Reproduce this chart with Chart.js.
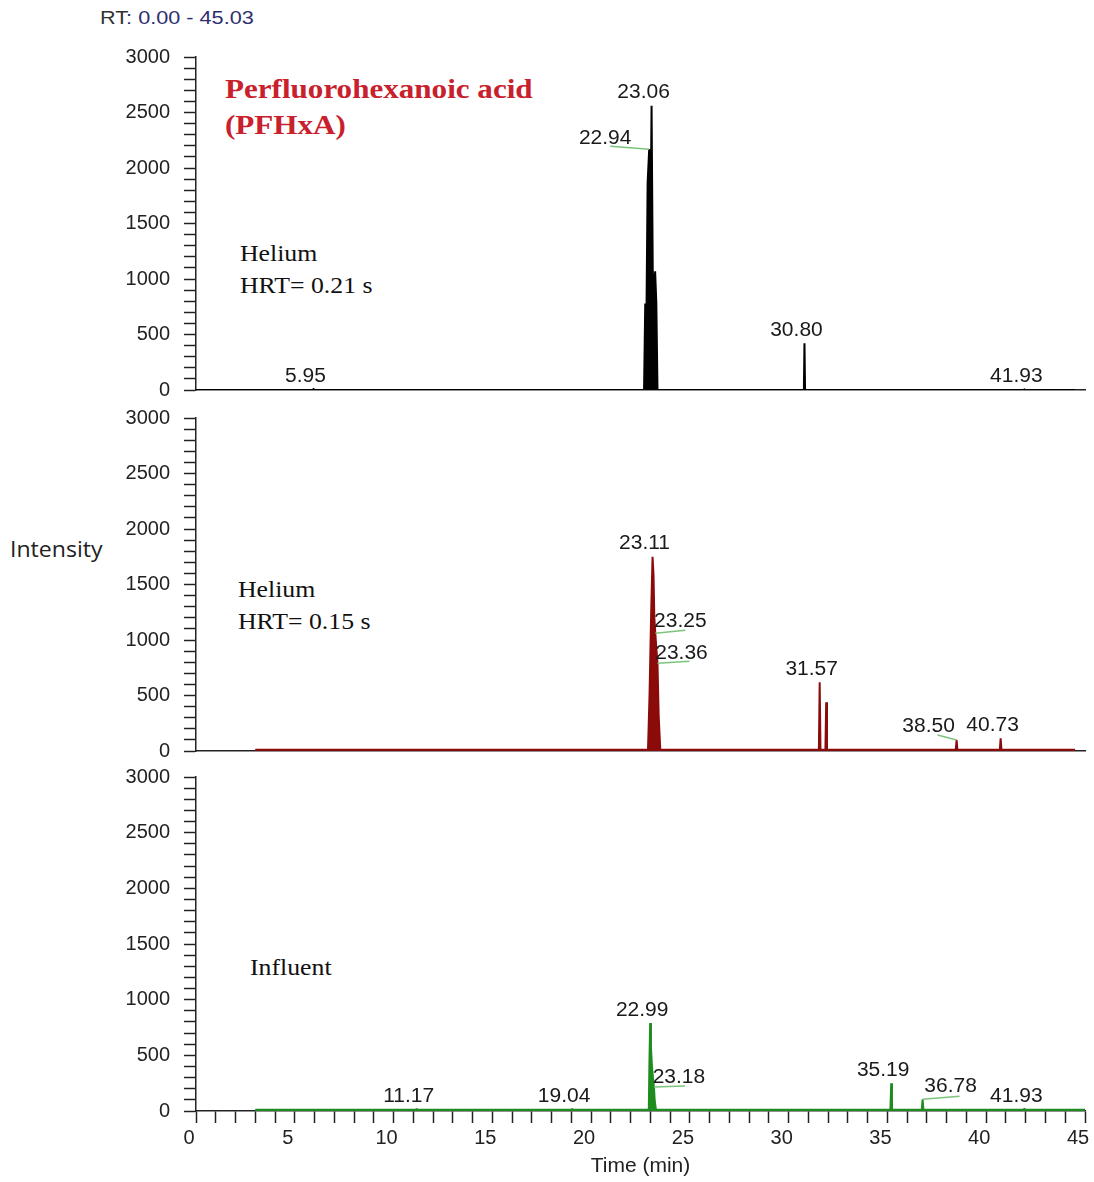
<!DOCTYPE html>
<html>
<head>
<meta charset="utf-8">
<title>PFHxA chromatograms</title>
<script src="https://cdn.jsdelivr.net/npm/chart.js@4.4.1/dist/chart.umd.min.js"></script>
<style>
    html, body { margin: 0; padding: 0; background: #fff; overflow: hidden; }
    body { position: relative; width: 1094px; height: 1182px; font-family: "Liberation Sans", Arial, sans-serif; color: #222; }
    canvas { position: absolute; left: 0; }
    .note { position: absolute; white-space: nowrap; font-family: "Liberation Serif", "Times New Roman", serif; color: #111; font-size: 23px; line-height: 32px; transform: scaleX(1.12); transform-origin: left center; }
    .title { position: absolute; left: 225px; top: 71px; font-family: "Liberation Serif", "Times New Roman", serif; font-weight: bold; font-size: 28px; line-height: 36px; color: #c8202c; white-space: nowrap; transform: scaleX(1.11); transform-origin: left center; }
    .rt { position: absolute; left: 100px; top: 6px; font-size: 19px; line-height: 24px; color: #333; transform: scaleX(1.14); transform-origin: left center; }
    .rt span { color: #2e2e6e; }
    .ylab { position: absolute; left: 10px; top: 534px; font-family: "Open Sans", sans-serif; font-size: 21px; line-height: 30px; color: #222; transform: scaleX(1.1); transform-origin: left center; }
</style>
</head>
<body>
<div class="rt">RT<span>: 0.00 - 45.03</span></div>
<div class="title">Perfluorohexanoic acid<br>(PFHxA)</div>
<div class="note" style="left:240px; top:238px;">Helium<br>HRT= 0.21 s</div>
<div class="note" style="left:238px; top:574px;">Helium<br>HRT= 0.15 s</div>
<div class="note" style="left:250px; top:952px;">Influent</div>
<div class="ylab">Intensity</div>

<canvas id="panelA" width="1100" height="385" style="top:31px"></canvas>
<canvas id="panelB" width="1100" height="385" style="top:392px"></canvas>
<canvas id="panelC" width="1100" height="430" style="top:751px"></canvas>

<script>
// Helium, HRT 0.21 s : retention time (min) / intensity
var rtHeliumA = [0, 5.90, 5.95, 6.00, 22.68, 22.74, 22.80, 22.86, 22.94, 23.00, 23.06, 23.12, 23.18, 23.24, 23.30, 23.36, 30.77, 30.80, 30.83, 41.88, 41.93, 41.98, 44.5];
var intHeliumA = [0, 0, 8, 0, 0, 780, 640, 1860, 2170, 1300, 2560, 1080, 830, 1070, 790, 0, 0, 420, 0, 0, 6, 0, 0];

// Helium, HRT 0.15 s
var rtHeliumB = [3.0, 22.88, 22.96, 23.04, 23.11, 23.16, 23.20, 23.25, 23.30, 23.36, 23.42, 23.50, 31.53, 31.57, 31.61, 31.86, 31.90, 31.94, 38.46, 38.50, 38.54, 40.69, 40.73, 40.77, 44.5];
var intHeliumB = [12, 12, 520, 1250, 1750, 1580, 1200, 1060, 930, 790, 320, 12, 12, 620, 12, 12, 440, 12, 12, 100, 12, 12, 115, 12, 12];

// Influent
var rtInfluent = [3.0, 11.12, 11.17, 11.22, 18.99, 19.04, 19.09, 22.92, 22.95, 22.99, 23.03, 23.08, 23.13, 23.18, 23.22, 23.28, 35.15, 35.19, 35.23, 36.74, 36.78, 36.82, 41.88, 41.93, 41.98, 45.03];
var intInfluent = [12, 12, 16, 12, 12, 16, 12, 12, 420, 790, 570, 400, 300, 215, 90, 12, 12, 250, 12, 12, 105, 12, 12, 18, 12, 12];

// labelled peak apexes
var peaksHeliumA = [5.95, 22.94, 23.06, 30.80, 41.93];
var peaksHeliumB = [23.11, 23.25, 23.36, 31.57, 38.50, 40.73];
var peaksInfluent = [11.17, 19.04, 22.99, 23.18, 35.19, 36.78, 41.93];

var yTicks = [0, 500, 1000, 1500, 2000, 2500, 3000];
var xTicks = [0, 5, 10, 15, 20, 25, 30, 35, 40, 45];

// label placement relative to the apex (px); lx/ly = start of the green leader line
var shiftsA = { '22.94': { dx: -44, dy: -11, lx: -39, ly: -3 } };
var shiftsB = {
    '23.25': { dx: 25, dy: -12, lx: 30, ly: -3 },
    '23.36': { dx: 24, dy: -10, lx: 32, ly: -2 },
    '38.50': { dx: -28, dy: -13, lx: -19, ly: -5 }
};
var shiftsC = {
    '23.18': { dx: 25, dy: -10, lx: 31, ly: -1 },
    '36.78': { dx: 28, dy: -13, lx: 37, ly: -3 }
};

var tickFont = { family: '"Liberation Sans", Arial, sans-serif', size: 20 };

function labelPlugin(peaks, shifts) {
    return {
        id: 'peakLabels',
        afterDatasetsDraw: function (chart) {
            var ctx = chart.ctx;
            var xs = chart.scales.x;
            var ys = chart.scales.y;
            var data = chart.data.datasets[0].data;
            ctx.save();
            ctx.font = '20px "Liberation Sans", Arial, sans-serif';
            ctx.textAlign = 'center';
            ctx.textBaseline = 'middle';
            peaks.forEach(function (rt) {
                var pt = data.find(function (p) { return p.x === rt; });
                var px = xs.getPixelForValue(rt);
                var py = ys.getPixelForValue(pt.y);
                var s = shifts[rt.toFixed(2)] || { dx: -8, dy: -13 };
                if (s.lx !== undefined) {
                    ctx.strokeStyle = '#7cc47c';
                    ctx.lineWidth = 1.5;
                    ctx.beginPath();
                    ctx.moveTo(px + s.lx, py + s.ly);
                    ctx.lineTo(px, py);
                    ctx.stroke();
                }
                ctx.fillStyle = '#1a1a1a';
                ctx.save();
                ctx.translate(px + s.dx, py + s.dy);
                ctx.scale(1.05, 1);
                ctx.fillText(rt.toFixed(2), 0, 0);
                ctx.restore();
            });
            ctx.restore();
        }
    };
}

function drawPanel(id, rts, ints, color, peaks, shifts, isBottom) {
    var points = rts.map(function (t, i) { return { x: t, y: ints[i] }; });

    var xAxis = {
        type: 'linear',
        min: 0,
        max: 45,
        border: { display: true, color: '#222', width: 1.5 },
        grid: { drawOnChartArea: false, drawTicks: false },
        ticks: { display: false }
    };
    if (isBottom) {
        xAxis.afterFit = function (scale) { scale.height = 70; };
        xAxis.grid = { drawOnChartArea: false, drawTicks: true, tickLength: 12, tickColor: '#222', tickWidth: 1.5 };
        xAxis.ticks = {
            display: true,
            stepSize: 1,
            autoSkip: false,
            maxRotation: 0,
            labelOffset: -7,
            color: '#222',
            font: tickFont,
            callback: function (v) { return xTicks.indexOf(v) >= 0 ? String(v) : ''; }
        };
        xAxis.title = {
            display: true,
            text: 'Time (min)',
            color: '#222',
            font: { family: '"Liberation Sans", Arial, sans-serif', size: 21 },
            padding: { top: 0, bottom: 2 }
        };
    }

    new Chart(document.getElementById(id), {
        type: 'line',
        data: {
            datasets: [{
                data: points,
                borderColor: color,
                backgroundColor: color,
                borderWidth: 2,
                pointRadius: 0,
                tension: 0,
                fill: 'origin'
            }]
        },
        options: {
            responsive: false,
            animation: false,
            devicePixelRatio: 1,
            layout: { padding: { left: 0, right: 15, top: 0, bottom: 0 } },
            plugins: { legend: { display: false }, tooltip: { enabled: false } },
            scales: {
                x: xAxis,
                y: {
                    type: 'linear',
                    min: 0,
                    max: 3000,
                    afterFit: function (scale) { scale.width = 196; },
                    border: { color: '#222', width: 1.5 },
                    grid: { drawOnChartArea: false, drawTicks: true, tickLength: 12, tickColor: '#222', tickWidth: 1.5 },
                    ticks: {
                        stepSize: 100,
                        maxTicksLimit: 100,
                        autoSkip: false,
                        padding: 14,
                        color: '#222',
                        font: tickFont,
                        callback: function (v) { return yTicks.indexOf(v) >= 0 ? String(v) : ''; }
                    }
                }
            }
        },
        plugins: [labelPlugin(peaks, shifts)]
    });
}

drawPanel('panelA', rtHeliumA, intHeliumA, '#000000', peaksHeliumA, shiftsA, false);
drawPanel('panelB', rtHeliumB, intHeliumB, '#8b0a0a', peaksHeliumB, shiftsB, false);
drawPanel('panelC', rtInfluent, intInfluent, '#1e8c1e', peaksInfluent, shiftsC, true);
</script>
</body>
</html>
